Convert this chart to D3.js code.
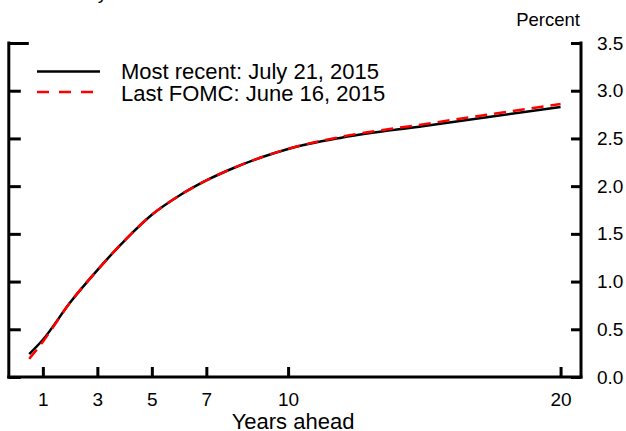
<!DOCTYPE html>
<html>
<head>
<meta charset="utf-8">
<script src="https://cdn.jsdelivr.net/npm/d3@7"></script>
<style>
  html, body { margin: 0; padding: 0; background: #fff; }
  svg { display: block; }
  text { font-family: "Liberation Sans", Arial, sans-serif; fill: #000; }
</style>
</head>
<body>
<svg id="chart" width="626" height="431"></svg>
<script>
// ---- data ----
const years = [0.5, 1, 2, 3, 4, 5, 6, 7, 8, 9, 10, 12, 15, 20];
const mostRecent = [0.24, 0.39, 0.78, 1.12, 1.43, 1.70, 1.90, 2.06, 2.19, 2.30, 2.39, 2.51, 2.63, 2.83];
const lastFOMC   = [0.19, 0.37, 0.78, 1.12, 1.43, 1.70, 1.90, 2.06, 2.19, 2.30, 2.39, 2.52, 2.65, 2.86];
const xTicks = [1, 3, 5, 7, 10, 20];
const yTicks = [0, 0.5, 1.0, 1.5, 2.0, 2.5, 3.0, 3.5];
const seriesNames = ["Most recent: July 21, 2015", "Last FOMC: June 16, 2015"];
const titleText = "Treasury Yield Curve";

// ---- layout ----
const svg = d3.select("#chart");
const mLeft = 8.8, mRight = 581, mTop = 43, mBottom = 377;

const x = d3.scaleLinear().domain([-0.25, 20.75]).range([mLeft, mRight]);
const y = d3.scaleLinear().domain([0, 3.5]).range([mBottom, mTop]);

// title (mostly above the visible area)
svg.append("text").attr("x", 33).attr("y", -1)
  .style("font-size", "19px").text(titleText);

// frame lines
const frame = svg.append("g").attr("stroke", "#000").attr("stroke-width", 3).attr("fill", "none");
frame.append("line").attr("x1", mLeft).attr("x2", mLeft).attr("y1", mTop - 1.5).attr("y2", mBottom + 1.5);
frame.append("line").attr("x1", mRight).attr("x2", mRight).attr("y1", mTop - 1.5).attr("y2", mBottom + 1.5);
frame.append("line").attr("x1", mLeft - 1.5).attr("x2", mRight + 1.5).attr("y1", mBottom).attr("y2", mBottom);

// x axis (ticks pointing inward)
const xAxis = svg.append("g").attr("transform", `translate(0,${mBottom})`)
  .call(d3.axisBottom(x).tickValues(xTicks).tickSizeInner(-10).tickSizeOuter(0).tickPadding(16).tickFormat(d3.format("d")));
xAxis.select(".domain").remove();
xAxis.selectAll(".tick line").attr("stroke", "#000").attr("stroke-width", 3);
xAxis.selectAll(".tick text").style("font-size", "19px").style("font-family", "Liberation Sans, Arial, sans-serif").attr("fill", "#000");

// right axis (ticks pointing inward, labels right)
const yAxisR = svg.append("g").attr("transform", `translate(${mRight},0)`)
  .call(d3.axisRight(y).tickValues(yTicks).tickSizeInner(-10).tickSizeOuter(0).tickPadding(16).tickFormat(d3.format(".1f")));
yAxisR.select(".domain").remove();
yAxisR.selectAll(".tick line").attr("stroke", "#000").attr("stroke-width", 3);
yAxisR.selectAll(".tick text").style("font-size", "19px").style("font-family", "Liberation Sans, Arial, sans-serif").attr("fill", "#000");

// left axis ticks (no labels)
const yAxisL = svg.append("g").attr("transform", `translate(${mLeft},0)`)
  .call(d3.axisLeft(y).tickValues(yTicks).tickSizeInner(-12).tickSizeOuter(0).tickFormat(""));
yAxisL.select(".domain").remove();
yAxisL.selectAll(".tick line").attr("stroke", "#000").attr("stroke-width", 3);
yAxisL.selectAll(".tick line").filter(d => d === 3.5).attr("x2", 20);

// units label
svg.append("text").attr("x", 580).attr("y", 26).attr("text-anchor", "end")
  .style("font-size", "18.5px").text("Percent");

// x axis title
svg.append("text").attr("x", 293).attr("y", 429).attr("text-anchor", "middle")
  .style("font-size", "22px").text("Years ahead");

// lines
const line = d3.line().x((d, i) => x(years[i])).y(d => y(d)).curve(d3.curveMonotoneX);
svg.append("path").datum(mostRecent).attr("d", line)
  .attr("fill", "none").attr("stroke", "#000").attr("stroke-width", 2.5);
svg.append("path").datum(lastFOMC).attr("d", line)
  .attr("fill", "none").attr("stroke", "#ff0000").attr("stroke-width", 2.5)
  .attr("stroke-dasharray", "12,7");

// legend
const leg = svg.append("g");
leg.append("line").attr("x1", 37).attr("x2", 100).attr("y1", 71.5).attr("y2", 71.5)
  .attr("stroke", "#000").attr("stroke-width", 2.5);
leg.append("line").attr("x1", 37).attr("x2", 95).attr("y1", 92).attr("y2", 92)
  .attr("stroke", "#ff0000").attr("stroke-width", 2.5).attr("stroke-dasharray", "12,10");
leg.append("text").attr("x", 121).attr("y", 78.5).style("font-size", "22px").text(seriesNames[0]);
leg.append("text").attr("x", 121).attr("y", 100.5).style("font-size", "22px").text(seriesNames[1]);
</script>
</body>
</html>
